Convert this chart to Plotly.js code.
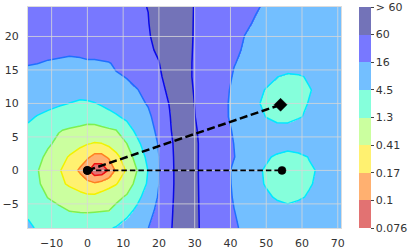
<!DOCTYPE html>
<html><head><meta charset="utf-8">
<script src="https://cdn.plot.ly/plotly-3.0.1.min.js"></script>
<style>html,body{margin:0;padding:0;background:#fff}</style>
</head><body><div id="chart" style="width:415px;height:251px"></div>
<script>
// grid positions (data units)
const xGrid = [-16.6, -14, -11, -8, -5, -2, 0, 2, 4, 6, 8, 11, 14, 17, 20, 23, 26, 29, 32, 35, 38, 41, 44, 47, 50, 53, 56, 59, 62, 65, 68, 70.9];
const yGrid = [-8.6, -6, -4, -2, 0, 2, 4, 6, 8, 10, 12, 14, 16, 18, 20, 22, 24.4];
// field, in colour-band units (0 = 0.076 ... 7 = 60)
const fieldLevels = [
 [5.1,4.95,4.78,4.62,4.45,4.51,4.61,4.72,4.82,4.93,5.06,5.38,5.69,5.99,6.44,6.88,7.44,7.34,6.89,6.62,6.35,6.08,5.89,5.73,5.57,5.41,5.31,5.35,5.38,5.42,5.46,5.5],
 [4.9,4.68,4.42,4.17,3.98,3.94,3.91,3.93,3.96,3.99,4.24,4.71,5.2,5.7,6.24,6.82,7.43,7.35,6.87,6.58,6.29,6.01,5.83,5.66,5.49,5.31,5.22,5.26,5.31,5.36,5.40,5.45],
 [4.75,4.37,3.97,3.76,3.56,3.35,3.22,3.24,3.42,3.60,3.78,4.11,4.78,5.43,6.09,6.77,7.42,7.34,6.86,6.55,6.24,5.95,5.68,5.41,5.14,4.91,4.78,4.92,5.06,5.18,5.29,5.4],
 [4.6,4.13,3.67,3.24,2.85,2.50,2.27,2.16,2.42,2.68,2.94,3.56,4.29,5.14,5.99,6.73,7.42,7.33,6.85,6.54,6.23,5.91,5.57,5.23,4.93,4.72,4.58,4.77,4.95,5.11,5.26,5.4],
 [4.45,4.05,3.58,3.11,2.52,1.84,1.22,0.3,0.3,1.12,2.16,3.12,4.03,5.03,5.97,6.73,7.42,7.32,6.84,6.53,6.22,5.89,5.54,5.18,4.90,4.71,4.58,4.74,4.91,5.07,5.24,5.4],
 [4.55,4.22,3.82,3.37,2.92,2.46,2.15,1.7,1.7,2.14,2.71,3.53,4.38,5.25,5.99,6.75,7.44,7.31,6.85,6.57,6.30,6.02,5.72,5.42,5.12,4.86,4.64,4.81,5.03,5.15,5.28,5.4],
 [4.75,4.45,4.11,3.81,3.52,3.24,3.05,2.94,2.98,3.23,3.54,3.99,4.83,5.47,6.07,6.80,7.45,7.31,6.85,6.56,6.28,5.99,5.83,5.66,5.5,5.47,5.45,5.45,5.45,5.45,5.45,5.45],
 [4.88,4.63,4.34,4.05,3.90,3.79,3.71,3.68,3.78,3.88,3.98,4.64,5.23,5.68,6.21,6.91,7.49,7.26,6.80,6.49,6.19,5.94,5.77,5.60,5.4,5.3,5.3,5.33,5.39,5.41,5.43,5.45],
 [5.1,4.97,4.84,4.71,4.58,4.44,4.35,4.44,4.59,4.74,4.89,5.17,5.51,5.85,6.35,6.96,7.59,7.15,6.76,6.45,6.14,5.84,5.55,5.26,4.98,4.76,4.75,4.95,5.09,5.21,5.33,5.45],
 [5.33,5.25,5.17,5.08,4.99,4.89,4.91,4.97,5.09,5.23,5.38,5.59,5.81,6.06,6.55,7.04,7.66,7.11,6.75,6.45,6.15,5.82,5.46,5.10,4.86,4.68,4.62,4.83,5.03,5.19,5.35,5.5],
 [5.5,5.46,5.42,5.37,5.33,5.28,5.32,5.41,5.50,5.60,5.69,5.83,5.97,6.32,6.73,7.18,7.66,7.06,6.74,6.46,6.17,5.87,5.55,5.24,4.95,4.76,4.63,4.79,4.96,5.15,5.36,5.55],
 [5.7,5.67,5.64,5.61,5.57,5.58,5.65,5.72,5.78,5.85,5.91,6.03,6.31,6.59,6.88,7.30,7.57,7.02,6.74,6.47,6.21,5.95,5.72,5.48,5.25,5.02,4.85,4.91,5.09,5.26,5.43,5.6],
 [6.06,6.01,5.94,5.89,5.82,5.84,5.88,5.86,5.9,5.95,6.13,6.34,6.55,6.77,6.98,7.42,7.50,7.02,6.76,6.52,6.27,6.02,5.90,5.79,5.68,5.57,5.51,5.52,5.53,5.55,5.57,5.6],
 [6.25,6.23,6.20,6.18,6.16,6.22,6.30,6.37,6.44,6.51,6.59,6.69,6.80,6.91,7.08,7.50,7.47,7.03,6.79,6.56,6.33,6.11,5.94,5.84,5.73,5.62,5.56,5.58,5.59,5.61,5.63,5.65],
 [6.4,6.39,6.38,6.37,6.35,6.41,6.47,6.52,6.58,6.64,6.70,6.78,6.87,6.95,7.18,7.57,7.44,7.04,6.81,6.60,6.39,6.18,5.99,5.88,5.78,5.67,5.61,5.63,5.64,5.66,5.68,5.7],
 [6.5,6.5,6.5,6.5,6.5,6.55,6.59,6.64,6.68,6.73,6.78,6.84,6.91,6.98,7.27,7.64,7.40,7.04,6.83,6.65,6.46,6.27,6.09,5.95,5.85,5.75,5.65,5.67,5.69,5.71,5.73,5.75],
 [6.6,6.6,6.6,6.6,6.6,6.64,6.68,6.71,6.75,6.79,6.83,6.89,6.94,7.01,7.36,7.70,7.37,7.04,6.86,6.70,6.54,6.38,6.22,6.05,5.93,5.83,5.73,5.71,5.72,5.74,5.76,5.8]
];
const levelTicks = [0, 1, 2, 3, 4, 5, 6, 7, 8];
const levelLabels = ['0.076', '0.1', '0.17', '0.41', '1.3', '4.5', '16', '60', '> 60'];
const bandColors = ['#e27272', '#ffb070', '#fff170', '#cbff9f', '#85ffdb', '#73bfff', '#7878ff', '#7373b8'];
const lineColors = ['#f01010', '#ff8020', '#f2f200', '#7df050', '#00e8ff', '#1f70ff', '#0a0ae6'];
const lineLevels = [1, 2, 3, 4, 5, 6, 7];
const xTicks = [-10, 0, 10, 20, 30, 40, 50, 60, 70];
const yTicks = [-5, 0, 5, 10, 15, 20];
const xRange = [-16.6, 70.9];
const yRange = [-8.6, 24.4];
const sourceX = [0], sourceY = [0];
const upperPathX = [0, 54], upperPathY = [0, 9.8];
const lowerPathX = [0, 54.4], lowerPathY = [0, 0];

const n = bandColors.length;
const colorscale = [];
bandColors.forEach((c, i) => { colorscale.push([i / n, c]); colorscale.push([(i + 1) / n, c]); });

const font = {family: 'DejaVu Sans, sans-serif', size: 11, color: '#333'};
const traces = [];
traces.push({
  type: 'contour', x: xGrid, y: yGrid, z: fieldLevels,
  colorscale: colorscale, zmin: 0, zmax: 8, autocontour: false,
  contours: {start: 1, end: 7, size: 1, coloring: 'heatmap', showlines: false},
  line: {width: 0, smoothing: 0}, hoverinfo: 'skip',
  colorbar: {tickmode: 'array', tickvals: levelTicks, ticktext: levelLabels,
    x: 1.059, xanchor: 'left', xpad: 0, ypad: 0, thickness: 12, thicknessmode: 'pixels',
    len: 1, lenmode: 'fraction', y: 0.5, yanchor: 'middle', outlinewidth: 0,
    ticks: 'outside', ticklen: 3, tickcolor: '#444', tickfont: font}
});
lineLevels.forEach((lv, i) => {
  traces.push({
    type: 'contour', x: xGrid, y: yGrid, z: fieldLevels, showscale: false, autocontour: false,
    contours: {start: lv, end: lv + 0.5, size: 1, coloring: 'none'},
    line: {color: lineColors[i], width: 1.5, smoothing: 0}, hoverinfo: 'skip'
  });
});
xTicks.forEach(t => traces.push({type: 'scatter', mode: 'lines', x: [t, t], y: yRange,
  line: {color: 'rgba(215,215,215,0.8)', width: 1}, hoverinfo: 'skip', showlegend: false}));
yTicks.forEach(t => traces.push({type: 'scatter', mode: 'lines', x: xRange, y: [t, t],
  line: {color: 'rgba(215,215,215,0.8)', width: 1}, hoverinfo: 'skip', showlegend: false}));
traces.push({type: 'scatter', mode: 'lines+markers', x: upperPathX, y: upperPathY,
  line: {color: '#000', width: 2.5, dash: '8px,3.5px'},
  marker: {symbol: ['circle', 'diamond'], size: [8, 10], color: '#000', opacity: 1, line: {color: '#000', width: 0.5}},
  showlegend: false, hoverinfo: 'skip'});
traces.push({type: 'scatter', mode: 'lines+markers', x: lowerPathX, y: lowerPathY,
  line: {color: '#000', width: 1.8, dash: '5.5px,3px'},
  marker: {symbol: 'circle', size: 8, color: '#000', opacity: 1, line: {color: '#000', width: 0.5}},
  showlegend: false, hoverinfo: 'skip'});
traces.push({type: 'scatter', mode: 'markers', x: sourceX, y: sourceY,
  marker: {symbol: 'circle', size: 8, color: '#000', opacity: 1}, showlegend: false, hoverinfo: 'skip'});

const layout = {
  width: 415, height: 251, margin: {l: 28, r: 72, t: 7, b: 23},
  paper_bgcolor: '#fff', plot_bgcolor: '#fff', showlegend: false, font: font,
  xaxis: {range: xRange, tickmode: 'array', tickvals: xTicks, showgrid: false, zeroline: false,
    showline: true, mirror: true, linecolor: '#dcdcdc', linewidth: 1, ticks: '', ticklabelstandoff: 5, tickfont: font},
  yaxis: {range: yRange, tickmode: 'array', tickvals: yTicks, showgrid: false, zeroline: false,
    showline: true, mirror: true, linecolor: '#dcdcdc', linewidth: 1, ticks: '', ticklabelstandoff: 6, tickfont: font}
};
Plotly.newPlot('chart', traces, layout, {staticPlot: true, displayModeBar: false});
</script></body></html>
